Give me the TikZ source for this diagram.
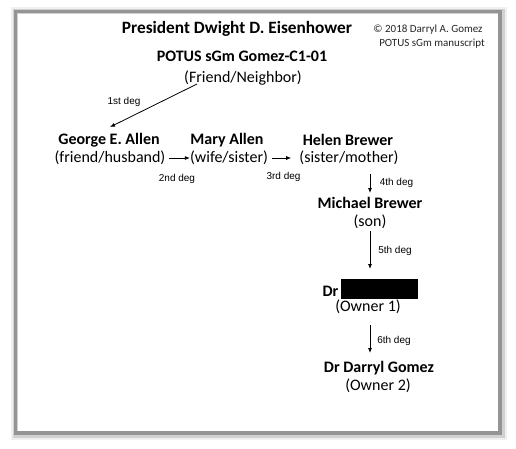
\documentclass[tikz,border=0pt]{standalone}
\usepackage{fontspec}
\setmainfont{Carlito}
\newfontfamily\arialfont{Liberation Sans}
\usetikzlibrary{arrows.meta}
\tikzset{
  txt/.style={inner sep=0pt, font=\fontsize{16}{18}\selectfont},
  bname/.style={txt, font=\fontsize{16}{18}\selectfont\bfseries},
  deg/.style={inner sep=0pt, font=\arialfont\fontsize{10}{12}\selectfont},
  note/.style={inner sep=0pt, font=\fontsize{11}{13}\selectfont, text=black!85},
  conn/.style={-{Latex[length=5pt,width=4pt]}, line width=0.8pt},
}
\begin{document}
\begin{tikzpicture}[x=1pt,y=-1pt]
\useasboundingbox (0,0) rectangle (516,448);
% frame with soft shadow
\draw[line width=11pt, black!6] (16,12) rectangle (501,434);
\draw[line width=7pt, black!18] (16,12) rectangle (501,434);
\draw[line width=3.5pt, black!42] (15.5,11.5) rectangle (500,433);
\fill[white] (17.5,13.5) rectangle (498,431);
% header
\node[inner sep=0pt, font=\fontsize{17.3}{20}\selectfont\bfseries] (title) at (237,29) {President Dwight D. Eisenhower};
\node[note] (copy1) at (428,30) {© 2018 Darryl A. Gomez};
\node[note] (copy2) at (432,44) {POTUS sGm manuscript};
\node[bname] (potus) at (242,56) {POTUS sGm Gomez-C1-01};
\node[txt] (friend) at (243,78) {(Friend/Neighbor)};
% row
\node[bname] (gname) at (109,140) {George E. Allen};
\node[txt] (grole) at (110,158) {(friend/husband)};
\node[bname] (mname) at (227,140) {Mary Allen};
\node[txt] (mrole) at (229,158) {(wife/sister)};
\node[bname] (hname) at (348,140) {Helen Brewer};
\node[txt] (hrole) at (349,158) {(sister/mother)};
% column
\node[bname] (miname) at (370,203) {Michael Brewer};
\node[txt] (mirole) at (370,222) {(son)};
\node[txt, font=\fontsize{16}{18}\selectfont\bfseries] (drx) at (370.5,289) {Dr\hspace{3pt}\rule[-3pt]{77pt}{20pt}};
\node[txt] (own1) at (368,307) {(Owner 1)};
\node[bname] (dname) at (379,368) {Dr Darryl Gomez};
\node[txt] (own2) at (378,386) {(Owner 2)};
% degree labels
\node[deg] (d1) at (124,102) {1st deg};
\node[deg] (d2) at (177,179) {2nd deg};
\node[deg] (d3) at (283.5,177) {3rd deg};
\node[deg] (d4) at (396.5,183) {4th deg};
\node[deg] (d5) at (395,251) {5th deg};
\node[deg] (d6) at (394,341) {6th deg};
% connectors
\coordinate (s1) at (197,84);
\coordinate (e1) at (110,127);
\draw[conn] (s1) -- (e1);
\draw[conn, shorten <=3.5pt] (grole.east) -- (mrole.west);
\draw[conn, shorten <=3.5pt, shorten >=8pt] (mrole.east) -- (hrole.west);
\draw[conn] (miname.north |- 0,174) -- (miname.north |- 0,193);
\draw[conn] (mirole.south -| 370,0) ++(0,2) -- (370,269);
\draw[conn] (own1.south -| 370,0) ++(0,11) -- (370,353);
\end{tikzpicture}
\end{document}
